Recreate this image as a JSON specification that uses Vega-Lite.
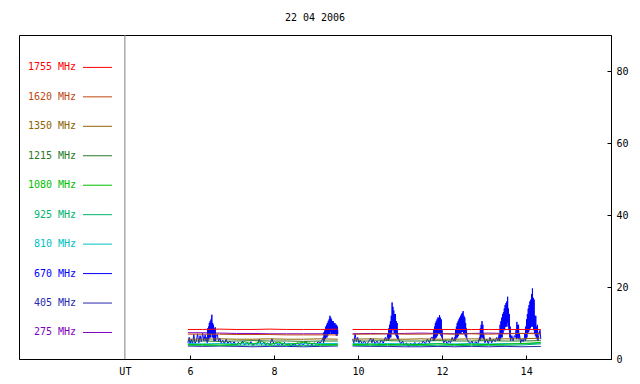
{
"$schema": "https://vega.github.io/schema/vega-lite/v6.json",
"width": 592, "height": 324,
"autosize": {"type": "none"},
"padding": {"left": 19, "top": 35, "right": 29, "bottom": 25},
"config": {
  "view": {"stroke": "black", "strokeWidth": 1},
  "font": "DejaVu Sans Mono",
  "axis": {"labelFont": "DejaVu Sans Mono", "labelFontSize": 10, "labelColor": "black", "tickColor": "black", "domainColor": "black", "grid": false}
},
"title": {"text": "22 04 2006", "font": "DejaVu Sans Mono", "fontSize": 10, "fontWeight": "normal", "color": "black", "anchor": "middle", "offset": 12},
"datasets": {
  "leg": [
    {"f": 1755, "name": "1755 MHz"}, {"f": 1620, "name": "1620 MHz"}, {"f": 1350, "name": "1350 MHz"},
    {"f": 1215, "name": "1215 MHz"}, {"f": 1080, "name": "1080 MHz"}, {"f": 925, "name": "925 MHz"},
    {"f": 810, "name": "810 MHz"}, {"f": 670, "name": "670 MHz"}, {"f": 405, "name": "405 MHz"}, {"f": 275, "name": "275 MHz"}
  ],
  "obs": [
    {"f":275,"s":1,"t":5.95,"v":7.3},{"f":275,"s":1,"t":6.3,"v":7.3},{"f":275,"s":1,"t":6.7,"v":7.2},{"f":275,"s":1,"t":7.1,"v":7.1},{"f":275,"s":1,"t":7.5,"v":7.1},{"f":275,"s":1,"t":7.9,"v":7.0},{"f":275,"s":1,"t":8.3,"v":7.0},{"f":275,"s":1,"t":8.7,"v":7.0},{"f":275,"s":1,"t":9.1,"v":7.0},{"f":275,"s":1,"t":9.52,"v":7.1},
    {"f":275,"s":2,"t":9.87,"v":7.0},{"f":275,"s":2,"t":10.3,"v":7.1},{"f":275,"s":2,"t":10.7,"v":7.0},{"f":275,"s":2,"t":11.1,"v":7.1},{"f":275,"s":2,"t":11.5,"v":7.2},{"f":275,"s":2,"t":11.9,"v":7.1},{"f":275,"s":2,"t":12.3,"v":7.0},{"f":275,"s":2,"t":12.7,"v":7.1},{"f":275,"s":2,"t":13.1,"v":7.2},{"f":275,"s":2,"t":13.5,"v":7.1},{"f":275,"s":2,"t":13.9,"v":7.1},{"f":275,"s":2,"t":14.35,"v":7.2},
    {"f":405,"s":1,"t":5.95,"v":3.6},{"f":405,"s":1,"t":6.3,"v":3.5},{"f":405,"s":1,"t":6.7,"v":3.6},{"f":405,"s":1,"t":7.1,"v":3.5},{"f":405,"s":1,"t":7.5,"v":3.4},{"f":405,"s":1,"t":7.9,"v":3.5},{"f":405,"s":1,"t":8.3,"v":3.5},{"f":405,"s":1,"t":8.7,"v":3.4},{"f":405,"s":1,"t":9.1,"v":3.5},{"f":405,"s":1,"t":9.52,"v":3.6},
    {"f":405,"s":2,"t":9.87,"v":3.6},{"f":405,"s":2,"t":10.3,"v":3.5},{"f":405,"s":2,"t":10.7,"v":3.5},{"f":405,"s":2,"t":11.1,"v":3.4},{"f":405,"s":2,"t":11.5,"v":3.4},{"f":405,"s":2,"t":11.9,"v":3.5},{"f":405,"s":2,"t":12.3,"v":3.4},{"f":405,"s":2,"t":12.7,"v":3.5},{"f":405,"s":2,"t":13.1,"v":3.4},{"f":405,"s":2,"t":13.5,"v":3.5},{"f":405,"s":2,"t":13.9,"v":3.4},{"f":405,"s":2,"t":14.35,"v":3.5},
    {"f":670,"s":1,"t":5.95,"v":4.5},{"f":670,"s":1,"t":5.98,"v":6.0},{"f":670,"s":1,"t":6.0,"v":4.2},{"f":670,"s":1,"t":6.03,"v":5.5},{"f":670,"s":1,"t":6.06,"v":4.0},{"f":670,"s":1,"t":6.09,"v":6.8},{"f":670,"s":1,"t":6.12,"v":4.3},{"f":670,"s":1,"t":6.15,"v":5.0},{"f":670,"s":1,"t":6.18,"v":7.0},{"f":670,"s":1,"t":6.21,"v":4.5},{"f":670,"s":1,"t":6.24,"v":6.5},{"f":670,"s":1,"t":6.27,"v":4.8},{"f":670,"s":1,"t":6.3,"v":7.2},{"f":670,"s":1,"t":6.33,"v":5.0},{"f":670,"s":1,"t":6.36,"v":6.8},{"f":670,"s":1,"t":6.38,"v":5.0},
    {"f":670,"s":1,"t":6.40,"v":6.0},{"f":670,"s":1,"t":6.41,"v":4.5},{"f":670,"s":1,"t":6.42,"v":8.5},{"f":670,"s":1,"t":6.43,"v":5.0},{"f":670,"s":1,"t":6.44,"v":9.0},{"f":670,"s":1,"t":6.45,"v":5.5},{"f":670,"s":1,"t":6.46,"v":10.0},{"f":670,"s":1,"t":6.47,"v":6.0},{"f":670,"s":1,"t":6.48,"v":10.5},{"f":670,"s":1,"t":6.49,"v":6.0},{"f":670,"s":1,"t":6.50,"v":11.0},{"f":670,"s":1,"t":6.51,"v":7.0},{"f":670,"s":1,"t":6.52,"v":12.3},{"f":670,"s":1,"t":6.53,"v":6.0},{"f":670,"s":1,"t":6.54,"v":10.0},{"f":670,"s":1,"t":6.55,"v":6.0},{"f":670,"s":1,"t":6.56,"v":9.5},{"f":670,"s":1,"t":6.57,"v":5.0},{"f":670,"s":1,"t":6.58,"v":8.5},{"f":670,"s":1,"t":6.59,"v":5.0},{"f":670,"s":1,"t":6.60,"v":8.8},{"f":670,"s":1,"t":6.61,"v":5.0},{"f":670,"s":1,"t":6.62,"v":6.5},
    {"f":670,"s":1,"t":6.65,"v":6.8},{"f":670,"s":1,"t":6.68,"v":4.8},{"f":670,"s":1,"t":6.71,"v":5.8},{"f":670,"s":1,"t":6.74,"v":4.5},{"f":670,"s":1,"t":6.78,"v":5.2},{"f":670,"s":1,"t":6.82,"v":4.2},{"f":670,"s":1,"t":6.86,"v":5.5},{"f":670,"s":1,"t":6.9,"v":4.3},{"f":670,"s":1,"t":6.95,"v":5.0},{"f":670,"s":1,"t":7.0,"v":4.0},{"f":670,"s":1,"t":7.05,"v":4.8},{"f":670,"s":1,"t":7.1,"v":3.8},{"f":670,"s":1,"t":7.15,"v":4.6},{"f":670,"s":1,"t":7.2,"v":4.0},{"f":670,"s":1,"t":7.25,"v":5.0},{"f":670,"s":1,"t":7.3,"v":3.9},{"f":670,"s":1,"t":7.35,"v":4.5},{"f":670,"s":1,"t":7.4,"v":4.0},{"f":670,"s":1,"t":7.45,"v":4.8},{"f":670,"s":1,"t":7.5,"v":3.7},{"f":670,"s":1,"t":7.55,"v":4.4},{"f":670,"s":1,"t":7.6,"v":4.1},{"f":670,"s":1,"t":7.65,"v":5.5},{"f":670,"s":1,"t":7.7,"v":4.0},{"f":670,"s":1,"t":7.75,"v":4.6},{"f":670,"s":1,"t":7.8,"v":3.9},{"f":670,"s":1,"t":7.85,"v":4.4},{"f":670,"s":1,"t":7.9,"v":4.0},{"f":670,"s":1,"t":7.95,"v":5.6},{"f":670,"s":1,"t":8.0,"v":4.1},{"f":670,"s":1,"t":8.05,"v":4.5},{"f":670,"s":1,"t":8.1,"v":3.8},{"f":670,"s":1,"t":8.15,"v":4.3},{"f":670,"s":1,"t":8.2,"v":3.9},{"f":670,"s":1,"t":8.25,"v":4.6},{"f":670,"s":1,"t":8.3,"v":4.0},{"f":670,"s":1,"t":8.35,"v":4.4},{"f":670,"s":1,"t":8.4,"v":3.5},{"f":670,"s":1,"t":8.45,"v":4.2},{"f":670,"s":1,"t":8.5,"v":3.8},{"f":670,"s":1,"t":8.55,"v":4.5},{"f":670,"s":1,"t":8.6,"v":4.0},{"f":670,"s":1,"t":8.65,"v":4.3},{"f":670,"s":1,"t":8.7,"v":3.9},{"f":670,"s":1,"t":8.75,"v":5.0},{"f":670,"s":1,"t":8.8,"v":4.0},{"f":670,"s":1,"t":8.85,"v":4.4},{"f":670,"s":1,"t":8.9,"v":3.9},{"f":670,"s":1,"t":8.95,"v":4.5},{"f":670,"s":1,"t":9.0,"v":4.1},{"f":670,"s":1,"t":9.05,"v":4.8},{"f":670,"s":1,"t":9.1,"v":4.4},{"f":670,"s":1,"t":9.14,"v":5.2},
    {"f":670,"s":1,"t":9.17,"v":6.0},{"f":670,"s":1,"t":9.18,"v":4.5},{"f":670,"s":1,"t":9.19,"v":7.5},{"f":670,"s":1,"t":9.20,"v":5.0},{"f":670,"s":1,"t":9.21,"v":8.0},{"f":670,"s":1,"t":9.22,"v":5.5},{"f":670,"s":1,"t":9.23,"v":9.0},{"f":670,"s":1,"t":9.24,"v":6.0},{"f":670,"s":1,"t":9.25,"v":9.5},{"f":670,"s":1,"t":9.26,"v":6.0},{"f":670,"s":1,"t":9.27,"v":10.0},{"f":670,"s":1,"t":9.28,"v":6.5},{"f":670,"s":1,"t":9.29,"v":10.5},{"f":670,"s":1,"t":9.30,"v":7.0},{"f":670,"s":1,"t":9.31,"v":11.0},{"f":670,"s":1,"t":9.32,"v":7.0},{"f":670,"s":1,"t":9.33,"v":12.0},{"f":670,"s":1,"t":9.34,"v":7.5},{"f":670,"s":1,"t":9.35,"v":11.5},{"f":670,"s":1,"t":9.36,"v":7.0},{"f":670,"s":1,"t":9.37,"v":11.0},{"f":670,"s":1,"t":9.38,"v":7.0},{"f":670,"s":1,"t":9.39,"v":10.5},{"f":670,"s":1,"t":9.40,"v":7.0},{"f":670,"s":1,"t":9.41,"v":10.5},{"f":670,"s":1,"t":9.42,"v":7.0},{"f":670,"s":1,"t":9.43,"v":10.0},{"f":670,"s":1,"t":9.44,"v":7.0},{"f":670,"s":1,"t":9.45,"v":10.0},{"f":670,"s":1,"t":9.46,"v":7.0},{"f":670,"s":1,"t":9.47,"v":9.5},{"f":670,"s":1,"t":9.48,"v":6.5},{"f":670,"s":1,"t":9.49,"v":9.5},{"f":670,"s":1,"t":9.50,"v":6.5},{"f":670,"s":1,"t":9.51,"v":9.0},{"f":670,"s":1,"t":9.52,"v":7.0},
    {"f":670,"s":2,"t":9.87,"v":5.5},{"f":670,"s":2,"t":9.9,"v":4.5},{"f":670,"s":2,"t":9.93,"v":7.0},{"f":670,"s":2,"t":9.96,"v":4.8},{"f":670,"s":2,"t":9.99,"v":6.0},{"f":670,"s":2,"t":10.02,"v":4.5},{"f":670,"s":2,"t":10.05,"v":5.2},{"f":670,"s":2,"t":10.1,"v":4.2},{"f":670,"s":2,"t":10.15,"v":5.0},{"f":670,"s":2,"t":10.2,"v":4.0},{"f":670,"s":2,"t":10.25,"v":4.8},{"f":670,"s":2,"t":10.3,"v":5.8},{"f":670,"s":2,"t":10.33,"v":4.5},{"f":670,"s":2,"t":10.36,"v":5.6},{"f":670,"s":2,"t":10.4,"v":4.2},{"f":670,"s":2,"t":10.45,"v":5.0},{"f":670,"s":2,"t":10.5,"v":4.0},{"f":670,"s":2,"t":10.55,"v":5.2},{"f":670,"s":2,"t":10.6,"v":4.4},{"f":670,"s":2,"t":10.65,"v":6.0},{"f":670,"s":2,"t":10.68,"v":5.0},
    {"f":670,"s":2,"t":10.71,"v":7.0},{"f":670,"s":2,"t":10.72,"v":5.0},{"f":670,"s":2,"t":10.73,"v":8.5},{"f":670,"s":2,"t":10.74,"v":5.5},{"f":670,"s":2,"t":10.75,"v":9.5},{"f":670,"s":2,"t":10.76,"v":6.0},{"f":670,"s":2,"t":10.77,"v":10.5},{"f":670,"s":2,"t":10.78,"v":6.0},{"f":670,"s":2,"t":10.79,"v":12.0},{"f":670,"s":2,"t":10.80,"v":7.0},{"f":670,"s":2,"t":10.81,"v":15.7},{"f":670,"s":2,"t":10.82,"v":8.0},{"f":670,"s":2,"t":10.83,"v":14.5},{"f":670,"s":2,"t":10.84,"v":8.0},{"f":670,"s":2,"t":10.85,"v":13.5},{"f":670,"s":2,"t":10.86,"v":7.0},{"f":670,"s":2,"t":10.87,"v":12.5},{"f":670,"s":2,"t":10.88,"v":7.0},{"f":670,"s":2,"t":10.89,"v":12.5},{"f":670,"s":2,"t":10.90,"v":6.5},{"f":670,"s":2,"t":10.91,"v":10.5},{"f":670,"s":2,"t":10.92,"v":6.0},{"f":670,"s":2,"t":10.93,"v":10.0},{"f":670,"s":2,"t":10.94,"v":5.5},{"f":670,"s":2,"t":10.95,"v":6.5},
    {"f":670,"s":2,"t":10.98,"v":5.0},{"f":670,"s":2,"t":11.02,"v":4.2},{"f":670,"s":2,"t":11.06,"v":5.0},{"f":670,"s":2,"t":11.1,"v":3.8},{"f":670,"s":2,"t":11.15,"v":4.5},{"f":670,"s":2,"t":11.2,"v":3.5},{"f":670,"s":2,"t":11.25,"v":4.4},{"f":670,"s":2,"t":11.3,"v":3.8},{"f":670,"s":2,"t":11.35,"v":4.6},{"f":670,"s":2,"t":11.4,"v":3.6},{"f":670,"s":2,"t":11.45,"v":4.5},{"f":670,"s":2,"t":11.5,"v":4.0},{"f":670,"s":2,"t":11.55,"v":5.0},{"f":670,"s":2,"t":11.6,"v":4.2},{"f":670,"s":2,"t":11.65,"v":5.5},{"f":670,"s":2,"t":11.7,"v":4.5},{"f":670,"s":2,"t":11.74,"v":6.0},
    {"f":670,"s":2,"t":11.78,"v":6.0},{"f":670,"s":2,"t":11.79,"v":5.0},{"f":670,"s":2,"t":11.80,"v":8.0},{"f":670,"s":2,"t":11.81,"v":5.0},{"f":670,"s":2,"t":11.82,"v":9.0},{"f":670,"s":2,"t":11.83,"v":5.5},{"f":670,"s":2,"t":11.84,"v":10.0},{"f":670,"s":2,"t":11.85,"v":6.0},{"f":670,"s":2,"t":11.86,"v":10.5},{"f":670,"s":2,"t":11.87,"v":6.0},{"f":670,"s":2,"t":11.88,"v":11.0},{"f":670,"s":2,"t":11.89,"v":6.5},{"f":670,"s":2,"t":11.90,"v":11.5},{"f":670,"s":2,"t":11.91,"v":7.0},{"f":670,"s":2,"t":11.92,"v":11.5},{"f":670,"s":2,"t":11.93,"v":7.0},{"f":670,"s":2,"t":11.94,"v":12.2},{"f":670,"s":2,"t":11.95,"v":7.0},{"f":670,"s":2,"t":11.96,"v":11.5},{"f":670,"s":2,"t":11.97,"v":6.5},{"f":670,"s":2,"t":11.98,"v":11.0},{"f":670,"s":2,"t":11.99,"v":6.0},{"f":670,"s":2,"t":12.00,"v":8.0},{"f":670,"s":2,"t":12.01,"v":5.5},
    {"f":670,"s":2,"t":12.04,"v":4.5},{"f":670,"s":2,"t":12.08,"v":5.2},{"f":670,"s":2,"t":12.12,"v":4.2},{"f":670,"s":2,"t":12.16,"v":5.0},{"f":670,"s":2,"t":12.2,"v":4.5},{"f":670,"s":2,"t":12.24,"v":6.0},{"f":670,"s":2,"t":12.27,"v":5.0},
    {"f":670,"s":2,"t":12.30,"v":6.0},{"f":670,"s":2,"t":12.31,"v":5.0},{"f":670,"s":2,"t":12.32,"v":8.0},{"f":670,"s":2,"t":12.33,"v":5.5},{"f":670,"s":2,"t":12.34,"v":9.0},{"f":670,"s":2,"t":12.35,"v":6.0},{"f":670,"s":2,"t":12.36,"v":10.0},{"f":670,"s":2,"t":12.37,"v":6.0},{"f":670,"s":2,"t":12.38,"v":10.5},{"f":670,"s":2,"t":12.39,"v":6.5},{"f":670,"s":2,"t":12.40,"v":11.0},{"f":670,"s":2,"t":12.41,"v":7.0},{"f":670,"s":2,"t":12.42,"v":11.5},{"f":670,"s":2,"t":12.43,"v":7.0},{"f":670,"s":2,"t":12.44,"v":12.0},{"f":670,"s":2,"t":12.45,"v":7.0},{"f":670,"s":2,"t":12.46,"v":12.5},{"f":670,"s":2,"t":12.47,"v":7.5},{"f":670,"s":2,"t":12.48,"v":12.8},{"f":670,"s":2,"t":12.49,"v":7.5},{"f":670,"s":2,"t":12.50,"v":13.3},{"f":670,"s":2,"t":12.51,"v":7.0},{"f":670,"s":2,"t":12.52,"v":12.0},{"f":670,"s":2,"t":12.53,"v":7.0},{"f":670,"s":2,"t":12.54,"v":11.5},{"f":670,"s":2,"t":12.55,"v":6.5},{"f":670,"s":2,"t":12.56,"v":10.0},{"f":670,"s":2,"t":12.57,"v":6.0},{"f":670,"s":2,"t":12.58,"v":8.5},{"f":670,"s":2,"t":12.59,"v":5.5},
    {"f":670,"s":2,"t":12.63,"v":4.8},{"f":670,"s":2,"t":12.67,"v":4.2},{"f":670,"s":2,"t":12.71,"v":5.0},{"f":670,"s":2,"t":12.75,"v":4.0},{"f":670,"s":2,"t":12.8,"v":4.8},{"f":670,"s":2,"t":12.85,"v":4.2},
    {"f":670,"s":2,"t":12.89,"v":6.0},{"f":670,"s":2,"t":12.90,"v":5.0},{"f":670,"s":2,"t":12.91,"v":8.5},{"f":670,"s":2,"t":12.92,"v":5.5},{"f":670,"s":2,"t":12.93,"v":9.5},{"f":670,"s":2,"t":12.94,"v":6.0},{"f":670,"s":2,"t":12.95,"v":10.5},{"f":670,"s":2,"t":12.96,"v":6.0},{"f":670,"s":2,"t":12.97,"v":9.5},{"f":670,"s":2,"t":12.98,"v":5.5},{"f":670,"s":2,"t":12.99,"v":7.0},
    {"f":670,"s":2,"t":13.02,"v":4.5},{"f":670,"s":2,"t":13.06,"v":5.5},{"f":670,"s":2,"t":13.1,"v":4.2},{"f":670,"s":2,"t":13.14,"v":6.0},{"f":670,"s":2,"t":13.18,"v":4.5},{"f":670,"s":2,"t":13.22,"v":5.5},{"f":670,"s":2,"t":13.26,"v":4.8},{"f":670,"s":2,"t":13.3,"v":6.0},{"f":670,"s":2,"t":13.33,"v":5.0},
    {"f":670,"s":2,"t":13.36,"v":7.0},{"f":670,"s":2,"t":13.37,"v":5.0},{"f":670,"s":2,"t":13.38,"v":9.5},{"f":670,"s":2,"t":13.39,"v":5.5},{"f":670,"s":2,"t":13.40,"v":10.5},{"f":670,"s":2,"t":13.41,"v":6.0},{"f":670,"s":2,"t":13.42,"v":11.5},{"f":670,"s":2,"t":13.43,"v":6.0},{"f":670,"s":2,"t":13.44,"v":12.5},{"f":670,"s":2,"t":13.45,"v":7.0},{"f":670,"s":2,"t":13.46,"v":13.0},{"f":670,"s":2,"t":13.47,"v":8.0},{"f":670,"s":2,"t":13.48,"v":14.0},{"f":670,"s":2,"t":13.49,"v":8.0},{"f":670,"s":2,"t":13.50,"v":15.0},{"f":670,"s":2,"t":13.51,"v":9.0},{"f":670,"s":2,"t":13.52,"v":15.5},{"f":670,"s":2,"t":13.53,"v":9.0},{"f":670,"s":2,"t":13.54,"v":16.0},{"f":670,"s":2,"t":13.55,"v":10.0},{"f":670,"s":2,"t":13.56,"v":17.3},{"f":670,"s":2,"t":13.57,"v":9.0},{"f":670,"s":2,"t":13.58,"v":14.0},{"f":670,"s":2,"t":13.59,"v":8.0},{"f":670,"s":2,"t":13.60,"v":12.5},{"f":670,"s":2,"t":13.61,"v":6.0},{"f":670,"s":2,"t":13.62,"v":9.0},{"f":670,"s":2,"t":13.63,"v":5.0},
    {"f":670,"s":2,"t":13.66,"v":6.5},{"f":670,"s":2,"t":13.69,"v":5.0},{"f":670,"s":2,"t":13.72,"v":6.5},
    {"f":670,"s":2,"t":13.75,"v":6.0},{"f":670,"s":2,"t":13.76,"v":8.0},{"f":670,"s":2,"t":13.77,"v":5.5},{"f":670,"s":2,"t":13.78,"v":10.3},{"f":670,"s":2,"t":13.79,"v":6.0},{"f":670,"s":2,"t":13.80,"v":9.5},{"f":670,"s":2,"t":13.81,"v":5.5},{"f":670,"s":2,"t":13.82,"v":9.5},{"f":670,"s":2,"t":13.83,"v":5.5},{"f":670,"s":2,"t":13.84,"v":7.0},
    {"f":670,"s":2,"t":13.87,"v":4.5},{"f":670,"s":2,"t":13.9,"v":5.5},{"f":670,"s":2,"t":13.93,"v":4.8},
    {"f":670,"s":2,"t":13.96,"v":6.0},{"f":670,"s":2,"t":13.97,"v":7.0},{"f":670,"s":2,"t":13.98,"v":5.0},{"f":670,"s":2,"t":13.99,"v":9.0},{"f":670,"s":2,"t":14.00,"v":5.5},{"f":670,"s":2,"t":14.01,"v":11.0},{"f":670,"s":2,"t":14.02,"v":6.0},{"f":670,"s":2,"t":14.03,"v":12.5},{"f":670,"s":2,"t":14.04,"v":7.0},{"f":670,"s":2,"t":14.05,"v":14.0},{"f":670,"s":2,"t":14.06,"v":7.5},{"f":670,"s":2,"t":14.07,"v":15.0},{"f":670,"s":2,"t":14.08,"v":8.0},{"f":670,"s":2,"t":14.09,"v":16.0},{"f":670,"s":2,"t":14.10,"v":8.5},{"f":670,"s":2,"t":14.11,"v":16.5},{"f":670,"s":2,"t":14.12,"v":9.0},{"f":670,"s":2,"t":14.13,"v":18.0},{"f":670,"s":2,"t":14.14,"v":9.0},{"f":670,"s":2,"t":14.15,"v":19.6},{"f":670,"s":2,"t":14.16,"v":9.0},{"f":670,"s":2,"t":14.17,"v":17.0},{"f":670,"s":2,"t":14.18,"v":8.0},{"f":670,"s":2,"t":14.19,"v":16.5},{"f":670,"s":2,"t":14.20,"v":7.0},{"f":670,"s":2,"t":14.21,"v":12.0},{"f":670,"s":2,"t":14.22,"v":6.5},{"f":670,"s":2,"t":14.23,"v":12.0},{"f":670,"s":2,"t":14.24,"v":6.0},{"f":670,"s":2,"t":14.25,"v":9.0},{"f":670,"s":2,"t":14.26,"v":5.5},{"f":670,"s":2,"t":14.27,"v":9.5},{"f":670,"s":2,"t":14.28,"v":5.0},{"f":670,"s":2,"t":14.30,"v":6.5},{"f":670,"s":2,"t":14.33,"v":8.0},{"f":670,"s":2,"t":14.35,"v":5.5},
    {"f":810,"s":1,"t":5.95,"v":4.3},{"f":810,"s":1,"t":6.3,"v":4.2},{"f":810,"s":1,"t":6.7,"v":4.3},{"f":810,"s":1,"t":7.1,"v":4.2},{"f":810,"s":1,"t":7.5,"v":4.3},{"f":810,"s":1,"t":7.9,"v":4.2},{"f":810,"s":1,"t":8.3,"v":4.3},{"f":810,"s":1,"t":8.7,"v":4.2},{"f":810,"s":1,"t":9.1,"v":4.3},{"f":810,"s":1,"t":9.52,"v":4.3},
    {"f":810,"s":2,"t":9.87,"v":4.3},{"f":810,"s":2,"t":10.3,"v":4.2},{"f":810,"s":2,"t":10.7,"v":4.3},{"f":810,"s":2,"t":11.1,"v":4.2},{"f":810,"s":2,"t":11.5,"v":4.2},{"f":810,"s":2,"t":11.9,"v":4.3},{"f":810,"s":2,"t":12.3,"v":4.2},{"f":810,"s":2,"t":12.7,"v":4.3},{"f":810,"s":2,"t":13.1,"v":4.2},{"f":810,"s":2,"t":13.5,"v":4.3},{"f":810,"s":2,"t":13.9,"v":4.2},{"f":810,"s":2,"t":14.35,"v":4.4},
    {"f":925,"s":1,"t":5.95,"v":3.8},{"f":925,"s":1,"t":6.3,"v":3.8},{"f":925,"s":1,"t":6.7,"v":3.7},{"f":925,"s":1,"t":7.1,"v":3.8},{"f":925,"s":1,"t":7.5,"v":3.9},{"f":925,"s":1,"t":7.9,"v":3.8},{"f":925,"s":1,"t":8.3,"v":3.8},{"f":925,"s":1,"t":8.7,"v":3.7},{"f":925,"s":1,"t":9.1,"v":3.8},{"f":925,"s":1,"t":9.52,"v":3.8},
    {"f":925,"s":2,"t":9.87,"v":3.8},{"f":925,"s":2,"t":10.3,"v":3.7},{"f":925,"s":2,"t":10.7,"v":3.8},{"f":925,"s":2,"t":11.1,"v":3.8},{"f":925,"s":2,"t":11.5,"v":3.7},{"f":925,"s":2,"t":11.9,"v":3.8},{"f":925,"s":2,"t":12.3,"v":3.8},{"f":925,"s":2,"t":12.7,"v":3.7},{"f":925,"s":2,"t":13.1,"v":3.8},{"f":925,"s":2,"t":13.5,"v":3.8},{"f":925,"s":2,"t":13.9,"v":3.9},{"f":925,"s":2,"t":14.35,"v":4.2},
    {"f":1080,"s":1,"t":5.95,"v":4.0},{"f":1080,"s":1,"t":6.3,"v":4.0},{"f":1080,"s":1,"t":6.7,"v":3.9},{"f":1080,"s":1,"t":7.1,"v":4.0},{"f":1080,"s":1,"t":7.3,"v":4.8},{"f":1080,"s":1,"t":7.5,"v":4.1},{"f":1080,"s":1,"t":7.7,"v":4.9},{"f":1080,"s":1,"t":7.9,"v":4.0},{"f":1080,"s":1,"t":8.1,"v":4.7},{"f":1080,"s":1,"t":8.3,"v":4.0},{"f":1080,"s":1,"t":8.7,"v":4.6},{"f":1080,"s":1,"t":9.1,"v":4.0},{"f":1080,"s":1,"t":9.52,"v":4.0},
    {"f":1080,"s":2,"t":9.87,"v":4.0},{"f":1080,"s":2,"t":10.3,"v":4.1},{"f":1080,"s":2,"t":10.7,"v":4.0},{"f":1080,"s":2,"t":11.1,"v":4.1},{"f":1080,"s":2,"t":11.5,"v":4.0},{"f":1080,"s":2,"t":11.9,"v":4.2},{"f":1080,"s":2,"t":12.3,"v":4.0},{"f":1080,"s":2,"t":12.7,"v":4.1},{"f":1080,"s":2,"t":13.1,"v":4.0},{"f":1080,"s":2,"t":13.5,"v":4.1},{"f":1080,"s":2,"t":13.9,"v":4.3},{"f":1080,"s":2,"t":14.35,"v":4.6},
    {"f":1215,"s":1,"t":5.95,"v":5.0},{"f":1215,"s":1,"t":6.3,"v":5.0},{"f":1215,"s":1,"t":6.7,"v":4.9},{"f":1215,"s":1,"t":7.1,"v":5.0},{"f":1215,"s":1,"t":7.5,"v":5.1},{"f":1215,"s":1,"t":7.9,"v":5.0},{"f":1215,"s":1,"t":8.3,"v":5.0},{"f":1215,"s":1,"t":8.7,"v":4.9},{"f":1215,"s":1,"t":9.1,"v":5.0},{"f":1215,"s":1,"t":9.52,"v":5.0},
    {"f":1215,"s":2,"t":9.87,"v":5.0},{"f":1215,"s":2,"t":10.3,"v":5.0},{"f":1215,"s":2,"t":10.7,"v":5.1},{"f":1215,"s":2,"t":11.1,"v":5.0},{"f":1215,"s":2,"t":11.5,"v":5.0},{"f":1215,"s":2,"t":11.9,"v":5.1},{"f":1215,"s":2,"t":12.3,"v":5.0},{"f":1215,"s":2,"t":12.7,"v":5.0},{"f":1215,"s":2,"t":13.1,"v":5.1},{"f":1215,"s":2,"t":13.5,"v":5.0},{"f":1215,"s":2,"t":13.9,"v":5.0},{"f":1215,"s":2,"t":14.35,"v":5.1},
    {"f":1350,"s":1,"t":5.95,"v":5.5},{"f":1350,"s":1,"t":6.3,"v":5.5},{"f":1350,"s":1,"t":6.7,"v":5.6},{"f":1350,"s":1,"t":7.1,"v":5.5},{"f":1350,"s":1,"t":7.5,"v":5.5},{"f":1350,"s":1,"t":7.9,"v":5.6},{"f":1350,"s":1,"t":8.3,"v":5.5},{"f":1350,"s":1,"t":8.7,"v":5.5},{"f":1350,"s":1,"t":9.1,"v":5.6},{"f":1350,"s":1,"t":9.52,"v":5.5},
    {"f":1350,"s":2,"t":9.87,"v":5.5},{"f":1350,"s":2,"t":10.3,"v":5.6},{"f":1350,"s":2,"t":10.7,"v":5.5},{"f":1350,"s":2,"t":11.1,"v":5.5},{"f":1350,"s":2,"t":11.5,"v":5.6},{"f":1350,"s":2,"t":11.9,"v":5.5},{"f":1350,"s":2,"t":12.3,"v":5.5},{"f":1350,"s":2,"t":12.7,"v":5.6},{"f":1350,"s":2,"t":13.1,"v":5.5},{"f":1350,"s":2,"t":13.5,"v":5.6},{"f":1350,"s":2,"t":13.9,"v":5.6},{"f":1350,"s":2,"t":14.35,"v":5.8},
    {"f":1620,"s":1,"t":5.95,"v":6.9},{"f":1620,"s":1,"t":6.3,"v":6.9},{"f":1620,"s":1,"t":6.7,"v":6.9},{"f":1620,"s":1,"t":7.1,"v":6.8},{"f":1620,"s":1,"t":7.5,"v":6.8},{"f":1620,"s":1,"t":7.9,"v":6.8},{"f":1620,"s":1,"t":8.3,"v":6.7},{"f":1620,"s":1,"t":8.7,"v":6.7},{"f":1620,"s":1,"t":9.1,"v":6.7},{"f":1620,"s":1,"t":9.52,"v":6.7},
    {"f":1620,"s":2,"t":9.87,"v":6.9},{"f":1620,"s":2,"t":10.3,"v":6.9},{"f":1620,"s":2,"t":10.7,"v":7.0},{"f":1620,"s":2,"t":11.1,"v":6.9},{"f":1620,"s":2,"t":11.5,"v":6.9},{"f":1620,"s":2,"t":11.9,"v":7.0},{"f":1620,"s":2,"t":12.3,"v":6.9},{"f":1620,"s":2,"t":12.7,"v":7.0},{"f":1620,"s":2,"t":13.1,"v":6.9},{"f":1620,"s":2,"t":13.5,"v":7.0},{"f":1620,"s":2,"t":13.9,"v":7.1},{"f":1620,"s":2,"t":14.35,"v":7.0},
    {"f":1755,"s":1,"t":5.95,"v":8.2},{"f":1755,"s":1,"t":6.3,"v":8.2},{"f":1755,"s":1,"t":6.7,"v":8.3},{"f":1755,"s":1,"t":7.1,"v":8.2},{"f":1755,"s":1,"t":7.5,"v":8.2},{"f":1755,"s":1,"t":7.9,"v":8.3},{"f":1755,"s":1,"t":8.3,"v":8.2},{"f":1755,"s":1,"t":8.7,"v":8.2},{"f":1755,"s":1,"t":9.1,"v":8.2},{"f":1755,"s":1,"t":9.52,"v":8.3},
    {"f":1755,"s":2,"t":9.87,"v":8.2},{"f":1755,"s":2,"t":10.3,"v":8.2},{"f":1755,"s":2,"t":10.7,"v":8.2},{"f":1755,"s":2,"t":11.1,"v":8.2},{"f":1755,"s":2,"t":11.5,"v":8.2},{"f":1755,"s":2,"t":11.9,"v":8.2},{"f":1755,"s":2,"t":12.3,"v":8.2},{"f":1755,"s":2,"t":12.7,"v":8.2},{"f":1755,"s":2,"t":13.1,"v":8.2},{"f":1755,"s":2,"t":13.5,"v":8.2},{"f":1755,"s":2,"t":13.9,"v":8.2},{"f":1755,"s":2,"t":14.35,"v":8.2}
  ]
},
"layer": [
  {
    "data": {"values": [{}]},
    "mark": {"type": "rule", "color": "#808080", "strokeWidth": 1},
    "encoding": {"x": {"datum": 4.45, "type": "quantitative", "title": null}}
  },
  {
    "data": {"name": "leg"},
    "layer": [
      {
        "mark": {"type": "text", "align": "right", "baseline": "middle", "font": "DejaVu Sans Mono", "fontSize": 10},
        "encoding": {
          "x": {"datum": 3.29, "type": "quantitative", "title": null},
          "y": {"field": "f", "type": "ordinal", "sort": "descending", "scale": {"type": "point", "padding": 1.05, "align": 0.55}, "axis": null},
          "text": {"field": "name"},
          "color": {"field": "f", "type": "nominal", "legend": null,
            "scale": {"domain": [275, 405, 670, 810, 925, 1080, 1215, 1350, 1620, 1755], "range": ["#8000c0", "#2828b0", "#0000ff", "#00c0c0", "#00b46e", "#00c000", "#287a28", "#8c6400", "#c04810", "#ff0000"]}}
        }
      },
      {
        "mark": {"type": "rule", "strokeWidth": 1},
        "encoding": {
          "x": {"datum": 3.453, "type": "quantitative", "title": null},
          "x2": {"datum": 4.143},
          "y": {"field": "f", "type": "ordinal", "sort": "descending", "scale": {"type": "point", "padding": 1.05, "align": 0.55}, "axis": null},
          "color": {"field": "f", "type": "nominal", "legend": null}
        }
      }
    ]
  },
  {
    "data": {"name": "obs"},
    "mark": {"type": "line", "strokeWidth": 1},
    "encoding": {
      "x": {"field": "t", "type": "quantitative", "title": null,
        "scale": {"domain": [1.93, 16.02], "nice": false, "zero": false},
        "axis": {"values": [4.45, 6, 8, 10, 12, 14], "labelExpr": "datum.value < 5 ? 'UT' : datum.label", "tickSize": -4, "labelPadding": 11, "labelFlush": false, "labelOverlap": false,
          "tickColor": {"condition": {"test": "datum.value < 5", "value": "transparent"}, "value": "black"}}},
      "y": {"field": "v", "type": "quantitative", "title": null,
        "scale": {"domain": [0, 90], "nice": false},
        "axis": {"orient": "right", "values": [0, 20, 40, 60, 80], "tickSize": -4, "labelPadding": 9, "labelAlign": "left", "labelBaseline": "middle"}},
      "color": {"field": "f", "type": "nominal", "legend": null},
      "detail": {"field": "s"}
    }
  }
],
"resolve": {"scale": {"y": "independent"}}
}
